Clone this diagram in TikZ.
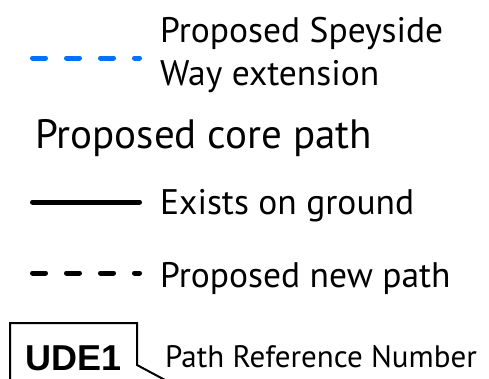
\documentclass[tikz,border=0pt]{standalone}
\usepackage{fontspec}
\setmainfont{PT Sans}
\newfontfamily\boxfont{Liberation Sans}
\definecolor{speyblue}{RGB}{0,114,255}
\begin{document}
\begin{tikzpicture}[x=1pt,y=-1pt,
    lbl/.style={anchor=base west, inner sep=0pt, font=\fontsize{35.5}{43}\selectfont},
    keyline/.style={line width=5pt, line cap=round},
    keydash/.style={keyline, dash pattern=on 13pt off 21pt}]
    \useasboundingbox (0,0) rectangle (489,378);
    \clip (0,0) rectangle (489,378);
    % Speyside Way
    \coordinate (sa) at (32.5,58);
    \coordinate (sb) at (139.5,58);
    \draw [keydash, speyblue] (sa) -- (sb);
    \node [lbl, align=left] (spey) at (160,85) {Proposed Speyside\\Way extension};
    % core path heading
    \node [lbl, font=\fontsize{41}{48}\selectfont] (core) at (35,148) {Proposed core path};
    % exists
    \coordinate (ea) at (32.5,202);
    \coordinate (eb) at (139.5,202);
    \draw [keyline] (ea) -- (eb);
    \node [lbl] (exist) at (160,214) {Exists on ground};
    % new path
    \coordinate (na) at (32.5,273);
    \coordinate (nb) at (139.5,273);
    \draw [keydash] (na) -- (nb);
    \node [lbl] (new) at (160,287) {Proposed new path};
    % path reference
    \draw [line width=2pt, line join=miter] (10,400) -- (10,323) -- (137,323) -- (137,365) -- (180,388);
    \node [lbl, font=\boxfont\bfseries\fontsize{36}{44}\selectfont] (ude) at (25,370) {UDE1};
    \node [lbl, font=\fontsize{31}{37}\selectfont] (ref) at (165,367) {Path Reference Number};
\end{tikzpicture}
\end{document}
